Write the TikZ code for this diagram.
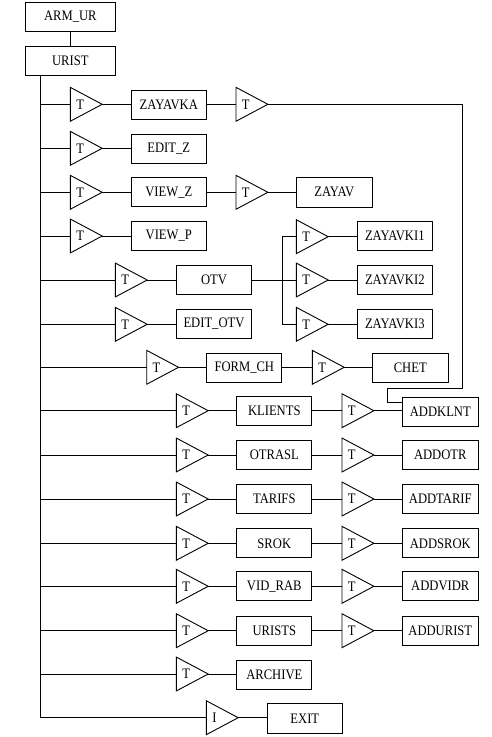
\documentclass[tikz,border=0pt]{standalone}
\usepackage{fontspec}
\setmainfont{Liberation Serif}[FakeStretch=0.87]
\begin{document}
\begin{tikzpicture}[x=1pt,y=-1pt,line width=0.9pt,
  every node/.style={font=\fontsize{14.5}{17}\selectfont},
  box/.style={draw,rectangle,inner sep=0pt,minimum width=75pt,minimum height=29pt},
  topbox/.style={box,minimum width=90pt},
  tri/.style={inner xsep=5.5pt,inner ysep=0pt,text width=20pt,align=left,minimum height=33pt,anchor=west}]
\useasboundingbox (0,0) rectangle (492,737);
% top
\node[topbox] (arm) at (70.3,16.7) {ARM\_UR};
\node[topbox] (urist) at (70.3,60.8) {URIST};
\draw (arm.south) -- (urist.south |- arm.south) -- (urist.north);
\coordinate (bus) at (40.7,75);
% row 1
\node[tri] (t1) at (70.3,104.3) {T};
\node[box] (zayavka) at (168.8,104.6) {ZAYAVKA};
\node[tri] (t1b) at (236,104.3) {T};
% row 2
\node[tri] (t2) at (70.3,148.3) {T};
\node[box] (editz) at (168.8,148.6) {EDIT\_Z};
% row 3
\node[tri] (t3) at (70.3,192.3) {T};
\node[box] (viewz) at (168.8,192.4) {VIEW\_Z};
\node[tri] (t3b) at (236,192.3) {T};
\node[box,minimum width=76pt,minimum height=30pt] (zayav) at (334.3,192.2) {ZAYAV};
% row 4
\node[tri] (t4) at (70.3,236) {T};
\node[box] (viewp) at (168.8,235.8) {VIEW\_P};
% row 5 OTV
\node[tri] (t5) at (115.3,280) {T};
\node[box] (otv) at (214,280) {OTV};
\node[tri] (tz1) at (296.3,236.7) {T};
\node[tri] (tz2) at (296.3,280) {T};
\node[tri] (tz3) at (296.3,324.3) {T};
\node[box] (zk1) at (394.8,236) {ZAYAVKI1};
\node[box] (zk2) at (394.8,280) {ZAYAVKI2};
\node[box] (zk3) at (394.8,323.5) {ZAYAVKI3};
% row 6
\node[tri] (t6) at (115.3,324.3) {T};
\node[box] (editotv) at (214,323.7) {EDIT\_OTV};
% row 7
\node[tri] (t7) at (146.7,367.3) {T};
\node[box] (formch) at (244.3,368) {FORM\_CH};
\node[tri] (t7b) at (312.3,367.3) {T};
\node[box,minimum width=76pt] (chet) at (410.3,368) {CHET};
% rows 8-13
\node[tri] (t8) at (176.3,410.7) {T};
\node[box] (klients) at (274.3,411) {KLIENTS};
\node[tri] (t8b) at (342,410.7) {T};
\node[box,minimum width=76pt] (addklnt) at (440.3,411.5) {ADDKLNT};
\node[tri] (t9) at (176.3,455) {T};
\node[box] (otrasl) at (274.3,455) {OTRASL};
\node[tri] (t9b) at (342,455) {T};
\node[box,minimum width=76pt] (addotr) at (440.3,455) {ADDOTR};
\node[tri] (t10) at (176.3,499) {T};
\node[box] (tarifs) at (274.3,499) {TARIFS};
\node[tri] (t10b) at (342,499) {T};
\node[box,minimum width=76pt] (addtarif) at (440.3,499) {ADDTARIF};
\node[tri] (t11) at (176.3,543.3) {T};
\node[box] (srok) at (274.3,543.3) {SROK};
\node[tri] (t11b) at (342,543.3) {T};
\node[box,minimum width=76pt] (addsrok) at (440.3,543.3) {ADDSROK};
\node[tri] (t12) at (176.3,586.3) {T};
\node[box] (vidrab) at (274.3,586.3) {VID\_RAB};
\node[tri] (t12b) at (342,586.3) {T};
\node[box,minimum width=76pt] (addvidr) at (440.3,586.3) {ADDVIDR};
\node[tri] (t13) at (176.3,630.7) {T};
\node[box] (urists) at (274.3,630.7) {URISTS};
\node[tri] (t13b) at (342,630.7) {T};
\node[box,minimum width=76pt] (addurist) at (440.3,630.7) {ADDURIST};
% row 14
\node[tri] (t14) at (176.3,674) {T};
\node[box] (archive) at (274.3,674.5) {ARCHIVE};
% row 15
\node[tri] (t15) at (206.3,717.7) {I};
\node[box,minimum height=30pt] (exit) at (304.8,718.3) {EXIT};
% triangles
\foreach \n in {t1,t1b,t2,t3,t3b,t4,t5,tz1,tz2,tz3,t6,t7,t7b,t8,t8b,t9,t9b,t10,t10b,t11,t11b,t12,t12b,t13,t13b,t14,t15}
  \draw[line join=miter] (\n.north west) -- (\n.east) -- (\n.south west) -- cycle;
% bus
\draw (bus) |- (t15.west);
\foreach \n in {t1,t2,t3,t4,t5,t6,t7,t8,t9,t10,t11,t12,t13,t14}
  \draw (bus |- \n.west) -- (\n.west);
% triangle -> box
\draw (t1.east) -- (t1.east -| zayavka.west);
\draw (zayavka.east |- t1b.west) -- (t1b.west);
\draw (t2.east) -- (t2.east -| editz.west);
\draw (t3.east) -- (t3.east -| viewz.west);
\draw (viewz.east |- t3b.west) -- (t3b.west);
\draw (t3b.east) -- (t3b.east -| zayav.west);
\draw (t4.east) -- (t4.east -| viewp.west);
\draw (t5.east) -- (t5.east -| otv.west);
\draw (otv.east) -- (tz2.west);
\coordinate (br) at (282.3,280);
\draw (tz1.west) -| (br) |- (tz3.west);
\draw (tz1.east) -- (tz1.east -| zk1.west);
\draw (tz2.east) -- (tz2.east -| zk2.west);
\draw (tz3.east) -- (tz3.east -| zk3.west);
\draw (t6.east) -- (t6.east -| editotv.west);
\draw (t7.east) -- (t7.east -| formch.west);
\draw (formch.east |- t7b.west) -- (t7b.west);
\draw (t7b.east) -- (t7b.east -| chet.west);
\foreach \a/\b/\c/\d in {t8/klients/t8b/addklnt,t9/otrasl/t9b/addotr,t10/tarifs/t10b/addtarif,t11/srok/t11b/addsrok,t12/vidrab/t12b/addvidr,t13/urists/t13b/addurist}{
  \draw (\a.east) -- (\a.east -| \b.west);
  \draw (\b.east |- \c.west) -- (\c.west);
  \draw (\c.east) -- (\c.east -| \d.west);
}
\draw (t14.east) -- (t14.east -| archive.west);
\draw (t15.east) -- (t15.east -| exit.west);
% loop from ZAYAVKA's second T to ADDKLNT
\coordinate (c1) at (462,388.3);
\coordinate (c2) at (387.3,402.3);
\draw (t1b.east) -| (c1) -| (c2) -- (c2 -| addklnt.west);
\end{tikzpicture}
\end{document}
